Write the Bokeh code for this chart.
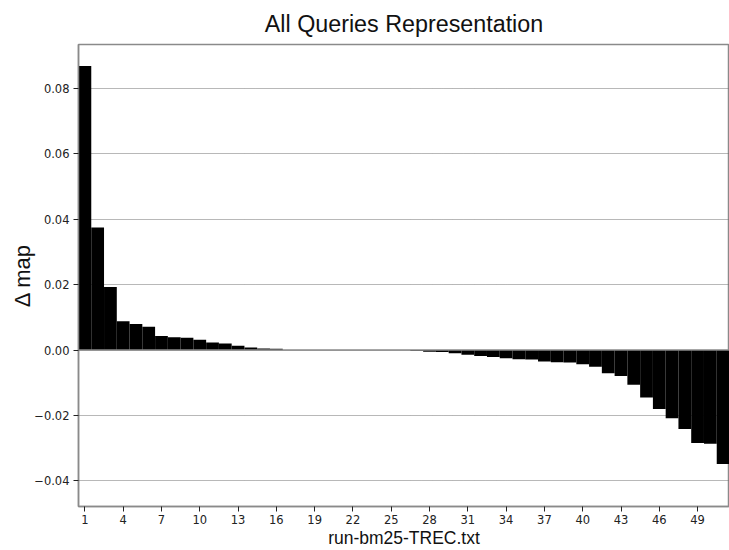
from bokeh.plotting import figure
from bokeh.models import FixedTicker, Range1d, Span, CustomJSTickFormatter
from bokeh.embed import file_html
from bokeh.resources import INLINE

# Query ranks (x positions) and delta-MAP values
queries = list(range(1, 52))
delta_map = [
    0.0868, 0.0375, 0.0193, 0.0088, 0.0080, 0.0071, 0.0043, 0.0039, 0.0038, 0.0032,
    0.0023, 0.0020, 0.0013, 0.0008, 0.0005, 0.0004, 0.0, 0.0, 0.0, 0.0,
    0.0, 0.0, 0.0, 0.0, 0.0, 0.0, -0.0002, -0.0005, -0.0006, -0.0010,
    -0.0014, -0.0018, -0.0021, -0.0025, -0.0028, -0.0029, -0.0035, -0.0037, -0.0038, -0.0043,
    -0.0051, -0.0071, -0.0079, -0.0106, -0.0145, -0.0180, -0.0208, -0.0241, -0.0284, -0.0286,
    -0.0348,
]
x_ticks = list(range(1, 50, 3))
y_ticks = [-0.04, -0.02, 0.0, 0.02, 0.04, 0.06, 0.08]

title_text = "All Queries Representation"
x_label = "run-bm25-TREC.txt"
y_label = "\u0394 map"

p = figure(width=729, height=550, output_backend="svg", toolbar_location=None,
           x_range=Range1d(0.5, 51.5), y_range=Range1d(-0.0478, 0.0934),
           min_border_left=78, min_border_right=0, min_border_top=44, min_border_bottom=43)

p.vbar(x=queries, top=delta_map, width=1.0, fill_color="black", line_color=None)

p.add_layout(Span(location=0, dimension="width", line_color="#8a8a8a", line_width=1.5))

p.title.text = title_text
p.title.align = "center"
p.title.text_font = "Liberation Sans"
p.title.text_font_size = "23.3px"
p.title.text_font_style = "normal"
p.title.text_color = "#111111"
p.title.standoff = 15
p.title.offset = -2

p.xaxis.ticker = FixedTicker(ticks=x_ticks)
p.yaxis.ticker = FixedTicker(ticks=y_ticks)
p.yaxis.formatter = CustomJSTickFormatter(code="return tick.toFixed(2).replace('-', '\u2212');")

for ax in (p.xaxis[0], p.yaxis[0]):
    ax.major_label_text_font = "DejaVu Sans"
    ax.major_label_text_font_size = "11.5px"
    ax.major_label_text_color = "#222222"
    ax.axis_label_text_font = "Liberation Sans"
    ax.axis_label_text_font_style = "normal"
    ax.axis_label_text_color = "#111111"
    ax.axis_line_color = "#8a8a8a"
    ax.axis_line_width = 1.5
    ax.major_tick_line_color = "#222222"
    ax.major_tick_out = 5
    ax.major_tick_in = 0
    ax.minor_tick_out = 0
    ax.minor_tick_in = 0

p.xaxis.axis_label = x_label
p.yaxis.axis_label = y_label
p.xaxis.axis_label_text_font_size = "17.5px"
p.yaxis.axis_label_text_font_size = "22px"
p.xaxis.major_label_standoff = 3
p.yaxis.major_label_standoff = 4
p.xaxis.axis_label_standoff = 1
p.yaxis.axis_label_standoff = -4

p.xgrid.grid_line_color = None
p.ygrid.grid_line_color = "#707070"
p.ygrid.grid_line_dash = "1 1"
p.ygrid.grid_line_width = 1

p.outline_line_color = "#8a8a8a"
p.outline_line_width = 1.5
p.background_fill_color = "white"
p.border_fill_color = "white"

open("out.html", "w").write(file_html(p, INLINE))
